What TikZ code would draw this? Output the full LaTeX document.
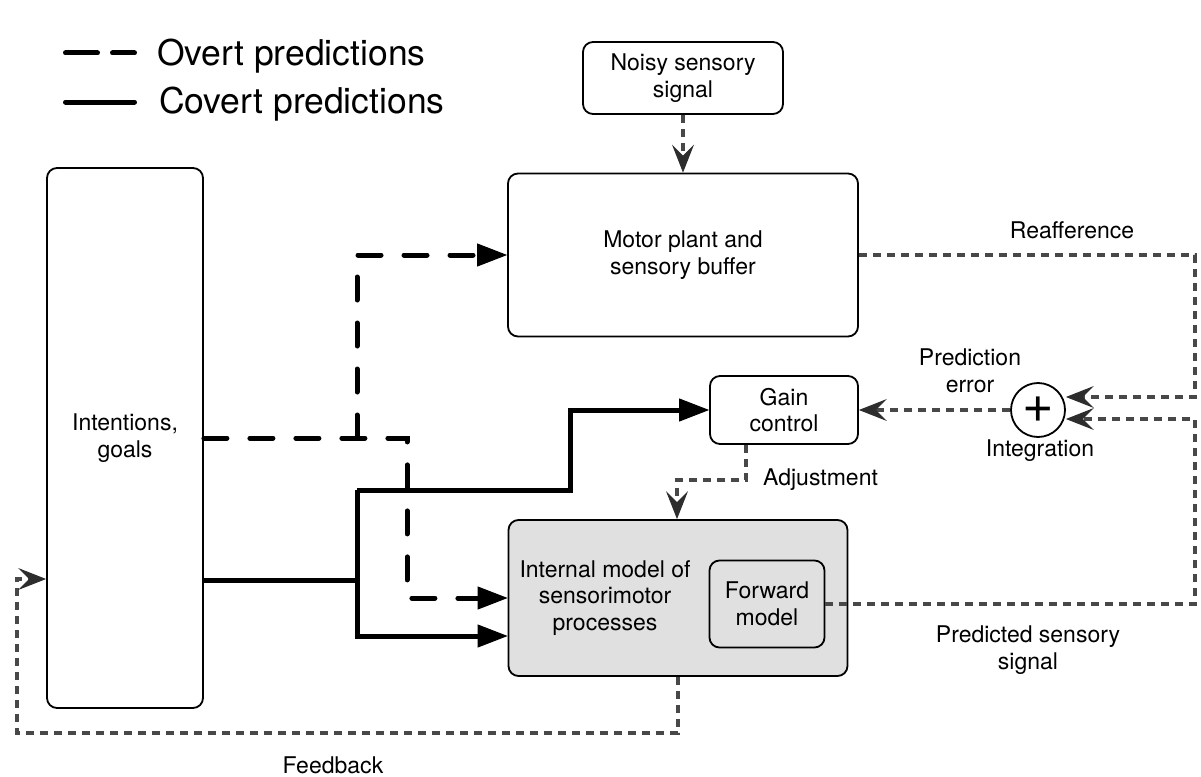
\documentclass[tikz,border=0pt]{standalone}
\usepackage{fontspec}
\setmainfont{TeX Gyre Heros}
\usepackage{tikz}
\usetikzlibrary{arrows.meta, positioning, shapes.geometric}
\definecolor{signalgray}{RGB}{72,72,72}
\definecolor{tipgray}{RGB}{45,45,45}
\definecolor{modelgray}{RGB}{224,224,224}

\begin{document}
\begin{tikzpicture}[
        x=1pt, y=-1pt,
        block/.style={rectangle, draw, rounded corners=10pt, line width=1.8pt, align=center, inner sep=0pt, font=\fontsize{23}{26.5}\selectfont},
        lbl/.style={align=center, inner sep=0pt, font=\fontsize{23}{26.5}\selectfont},
        legend/.style={anchor=base west, inner sep=0pt, font=\fontsize{35.5}{40}\selectfont},
        covert/.style={-{Triangle[length=30pt, width=23pt, line width=1pt]}, line width=5pt},
        overt/.style={covert, dash pattern=on 23pt off 23pt, line cap=round},
        signal/.style={-{Stealth[length=28pt, width=22pt, inset=11pt, line width=1pt, color=tipgray]}, signalgray, line width=3.5pt, dash pattern=on 8pt off 6pt}
    ]
    \useasboundingbox (0,0) rectangle (1201,776);

    % legend
    \node[legend] (overtlbl) at (157,65) {Overt predictions};
    \node[legend] (covertlbl) at (159,113) {Covert predictions};
    \coordinate (legA) at (65.5,53);
    \coordinate (legB) at (134.5,53);
    \coordinate (legC) at (65.5,102);
    \coordinate (legD) at (134.5,102);
    \draw[overt, -, dash pattern=on 32pt off 15pt] (legA) -- (legB);
    \draw[covert, -, line cap=round] (legC) -- (legD);

    % blocks
    \node[block, minimum width=200pt, minimum height=72pt] (noisy) at (683,78) {Noisy sensory\\signal};
    \node[block, minimum width=350pt, minimum height=163pt] (motor) at (683,255) {Motor plant and\\sensory buffer};
    \node[block, minimum width=156pt, minimum height=540pt] (goals) at (125,438) {Intentions,\\goals};
    \node[block, minimum width=148pt, minimum height=68pt] (gain) at (784,410) {Gain\\control};
    \node[block, fill=modelgray, minimum width=339pt, minimum height=156pt] (internal) at (678,598) {};
    \node[lbl] (inttext) at (605,598) {Internal model of\\sensorimotor\\processes};
    \node[block, minimum width=115pt, minimum height=87pt] (fwd) at (767,604) {Forward\\model};
    \node[circle, draw, line width=1.8pt, minimum size=54pt, inner sep=0pt, font=\fontsize{54}{54}\selectfont] (plus) at (1038,410) {+};

    % labels
    \node[lbl] (reaflbl) at (1072,230) {Reafference};
    \node[lbl] (errlbl) at (970,371) {Prediction\\error};
    \node[lbl] (intlbl) at (1040,451) {Integration};
    \node[lbl, anchor=west] (adjlbl) at (763,480) {Adjustment};
    \node[lbl] (predlbl) at (1028,650) {Predicted sensory\\signal};
    \node[lbl] (fblbl) at (333,765) {Feedback};

    % bends
    \coordinate (ov1) at (357,438);
    \coordinate (ov2) at (407,438);
    \coordinate (cv) at (357,580);
    \coordinate (cvtop) at (357,490);
    \coordinate (cvbot) at (357,636);
    \coordinate (gc) at (570,410);
    \coordinate (adj) at (677,480);
    \coordinate (reaf) at (1195,397);
    \coordinate (pred) at (1195,419);
    \coordinate (fb) at (17,733);
    \coordinate (fbin) at (17,579);

    % overt predictions
    \draw[overt] (goals.east) -- (ov2) |- (internal.west);
    \draw[overt] (ov1) |- (motor.west);

    % covert predictions
    \draw[covert, -] (goals.east |- cv) -- (cv);
    \draw[covert] (cvtop) -| (gc) -- (gain.west);
    \draw[covert] (cvtop) |- (cvbot -| internal.west);

    % sensory signals
    \draw[signal] (noisy) -- (motor);
    \draw[signal] (motor.east) -| (reaf) -- (reaf -| plus.east);
    \draw[signal] (fwd.east) -| (pred) -- (pred -| plus.east);
    \draw[signal] (plus) -- (gain);
    \draw[signal] ([xshift=-38pt]gain.south) |- (adj) -- (internal.north -| adj);
    \draw[signal] (internal.south) |- (fb) -- (fbin) -- (goals.west |- fbin);
\end{tikzpicture}
\end{document}
